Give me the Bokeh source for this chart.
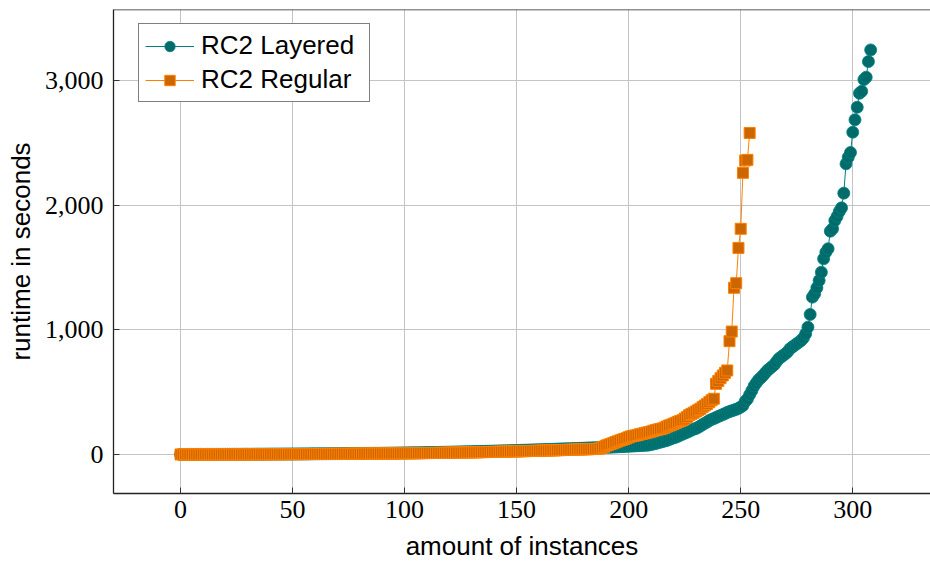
from bokeh.plotting import figure
from bokeh.models import ColumnDataSource, FixedTicker, NumeralTickFormatter, Range1d, Legend, LegendItem, Span
from bokeh.embed import file_html
from bokeh.resources import INLINE

# RC2 Layered: sorted runtimes (seconds), x = instance index
layered = [
    0.3, 0.4, 0.4, 0.5, 0.6, 0.6, 0.7, 0.7, 0.8, 0.9,
    0.9, 1.0, 1.0, 1.1, 1.2, 1.2, 1.3, 1.4, 1.4, 1.5,
    1.5, 1.6, 1.7, 1.7, 1.8, 1.9, 2.0, 2.0, 2.1, 2.2,
    2.3, 2.3, 2.4, 2.5, 2.6, 2.7, 2.7, 2.8, 2.9, 3.0,
    3.1, 3.2, 3.3, 3.3, 3.4, 3.5, 3.6, 3.7, 3.8, 3.9,
    4.0, 4.1, 4.2, 4.4, 4.5, 4.6, 4.7, 4.8, 5.0, 5.1,
    5.2, 5.3, 5.5, 5.6, 5.7, 5.9, 6.0, 6.1, 6.3, 6.4,
    6.6, 6.7, 6.9, 7.0, 7.2, 7.3, 7.5, 7.7, 7.8, 8.0,
    8.2, 8.4, 8.5, 8.7, 8.9, 9.1, 9.3, 9.5, 9.7, 9.9,
    10.1, 10.3, 10.5, 10.8, 11.0, 11.2, 11.5, 11.7, 12.0, 12.2,
    12.5, 12.7, 13.0, 13.3, 13.5, 13.8, 14.1, 14.4, 14.7, 15.0,
    15.3, 15.6, 16.0, 16.3, 16.6, 17.0, 17.3, 17.7, 18.0, 18.4,
    18.8, 19.1, 19.5, 19.9, 20.3, 20.7, 21.1, 21.5, 21.9, 22.3,
    22.7, 23.2, 23.6, 24.0, 24.5, 24.9, 25.4, 25.8, 26.3, 26.8,
    27.2, 27.7, 28.2, 28.7, 29.2, 29.7, 30.2, 30.7, 31.2, 31.8,
    32.3, 32.8, 33.4, 33.9, 34.5, 35.0, 35.6, 36.2, 36.8, 37.3,
    37.9, 38.5, 39.1, 39.7, 40.3, 40.9, 41.5, 42.1, 42.8, 43.4,
    44.0, 44.6, 45.3, 45.9, 46.5, 47.2, 47.8, 48.5, 49.1, 49.8,
    50.4, 51.1, 51.8, 52.4, 53.1, 53.8, 54.5, 55.2, 55.9, 56.6,
    57.3, 58.0, 58.7, 59.4, 60.1,
    61, 62, 63, 64, 65, 66, 67, 68, 69, 70, 71, 72, 73, 74, 76,
    80, 84, 88, 93, 98, 103, 108, 112, 120, 127,
    133, 139, 146, 155, 163, 170, 178, 186, 195, 203,
    208, 218, 228, 240, 250, 260, 272, 281, 288, 296,
    305, 312, 320, 328, 337, 344, 350, 356, 362, 370,
    380, 393, 425, 445, 480, 513, 550, 575, 600, 615,
    634, 655, 675, 690, 705, 720, 745, 768, 781, 795,
    808, 825, 848, 861, 875, 888, 901, 915, 935, 968,
    1021, 1123, 1262, 1289, 1337, 1395, 1462, 1569, 1622, 1650,
    1791, 1810, 1876, 1909, 1949, 1978, 2096, 2331, 2384, 2422,
    2585, 2684, 2785, 2897, 2913, 3007, 3026, 3151, 3245,
]

# RC2 Regular: sorted runtimes (seconds)
regular = [
    0.2, 0.2, 0.3, 0.3, 0.3, 0.4, 0.4, 0.4, 0.5, 0.5,
    0.5, 0.6, 0.6, 0.7, 0.7, 0.7, 0.8, 0.8, 0.9, 0.9,
    1.0, 1.0, 1.1, 1.1, 1.2, 1.2, 1.3, 1.3, 1.4, 1.4,
    1.5, 1.5, 1.6, 1.7, 1.7, 1.8, 1.8, 1.9, 2.0, 2.0,
    2.1, 2.2, 2.2, 2.3, 2.4, 2.4, 2.5, 2.6, 2.7, 2.7,
    2.8, 2.9, 3.0, 3.1, 3.1, 3.2, 3.3, 3.4, 3.5, 3.6,
    3.7, 3.8, 3.9, 4.0, 4.1, 4.2, 4.3, 4.4, 4.5, 4.6,
    4.7, 4.8, 5.0, 5.1, 5.2, 5.3, 5.5, 5.6, 5.7, 5.9,
    6.0, 6.1, 6.3, 6.4, 6.6, 6.7, 6.9, 7.0, 7.2, 7.3,
    7.5, 7.7, 7.8, 8.0, 8.2, 8.3, 8.5, 8.7, 8.9, 9.1,
    9.3, 9.5, 9.7, 9.9, 10.1, 10.3, 10.5, 10.7, 11.0, 11.2,
    11.4, 11.7, 11.9, 12.2, 12.4, 12.7, 12.9, 13.2, 13.5, 13.8,
    14.0, 14.3, 14.6, 14.9, 15.2, 15.5, 15.8, 16.1, 16.5, 16.8,
    17.1, 17.5, 17.8, 18.2, 18.5, 18.9, 19.3, 19.6, 20.0, 20.4,
    20.8, 21.2, 21.6, 22.0, 22.4, 22.9, 23.3, 23.7, 24.2, 24.6,
    25.1, 25.5, 26.0, 26.5, 27.0, 27.4, 27.9, 28.4, 28.9, 29.4,
    29.9, 30.4, 31.0, 31.5, 32.0, 32.5, 33.1, 33.6, 34.2, 34.7,
    35.3, 35.9, 36.4, 37.0, 37.6, 38.2, 38.8, 39.4, 40.0, 40.6,
    41.2, 41.8, 42.4, 43.0, 43.7,
    44.5, 45.5, 47, 55, 62,
    72, 78, 85, 90, 98, 105, 112, 118, 124, 130,
    138, 145, 150, 152, 156, 162, 166, 170, 175, 179,
    184, 190, 195, 200, 204, 208, 215, 224, 232, 238,
    246, 254, 262, 268, 275, 288, 300, 315, 325, 335,
    345, 355, 366, 380, 393, 405, 420, 435, 447, 567,
    590, 612, 634, 655, 674, 909, 986, 1337, 1374, 1657,
    1810, 2259, 2358, 2363, 2579,
]

x_ticks = [0, 50, 100, 150, 200, 250, 300]
y_ticks = [0, 1000, 2000, 3000]
Y_MIN, Y_MAX = -313, 3569

TEAL_LINE = "#008080"
TEAL_FILL = "#006b6b"
ORANGE_LINE = "#ff8000"
ORANGE_FILL = "#cc6600"

src_l = ColumnDataSource(dict(x=list(range(len(layered))), y=layered))
src_r = ColumnDataSource(dict(x=list(range(len(regular))), y=regular))

p = figure(width=930, height=568, output_backend="svg", toolbar_location=None,
           x_range=Range1d(-29.9, 334.7), y_range=Range1d(Y_MIN, Y_MAX),
           min_border_left=113, min_border_right=0, min_border_top=9, min_border_bottom=75)

l1 = p.line("x", "y", source=src_l, line_color=TEAL_LINE, line_width=1)
s1 = p.scatter("x", "y", source=src_l, marker="circle", size=12,
               fill_color=TEAL_FILL, line_color=TEAL_LINE, line_width=0.8)
l2 = p.line("x", "y", source=src_r, line_color=ORANGE_LINE, line_width=1)
s2 = p.scatter("x", "y", source=src_r, marker="square", size=11,
               fill_color=ORANGE_FILL, line_color=ORANGE_LINE, line_width=1)

legend = Legend(items=[LegendItem(label="RC2 Layered", renderers=[l1, s1]),
                       LegendItem(label="RC2 Regular", renderers=[l2, s2])],
                location=(25, 391))
legend.label_text_font = "Liberation Sans"
legend.label_text_font_size = "26px"
legend.label_text_color = "black"
legend.glyph_width = 49
legend.glyph_height = 26
legend.label_width = 162
legend.label_standoff = 7
legend.padding = 6
legend.spacing = 3
legend.margin = 0
legend.border_line_color = "black"
legend.border_line_width = 1.2
legend.background_fill_color = "white"
legend.background_fill_alpha = 1
p.add_layout(legend)

p.xaxis.ticker = FixedTicker(ticks=x_ticks)
p.yaxis.ticker = FixedTicker(ticks=y_ticks)
p.yaxis.formatter = NumeralTickFormatter(format="0,0")

for ax in (p.xaxis, p.yaxis):
    ax.major_tick_in = 6
    ax.major_tick_out = 0
    ax.minor_tick_line_color = None
    ax.major_tick_line_color = "#333333"
    ax.axis_line_color = "#222222"
    ax.axis_line_width = 1.3
    ax.major_label_text_font = "Liberation Serif"
    ax.major_label_text_font_size = "26px"
    ax.major_label_text_color = "black"
    ax.axis_label_text_font = "Liberation Sans"
    ax.axis_label_text_font_size = "26px"
    ax.axis_label_text_font_style = "normal"
    ax.axis_label_text_color = "black"

p.xaxis.axis_label = "amount of instances"
p.yaxis.axis_label = "runtime in seconds"
p.xaxis.major_label_standoff = 7
p.xaxis.axis_label_standoff = 10
p.yaxis.major_label_standoff = 10
p.yaxis.axis_label_standoff = 6

p.xgrid.ticker = FixedTicker(ticks=x_ticks)
p.ygrid.ticker = FixedTicker(ticks=y_ticks)
p.grid.grid_line_color = "#c4c4c4"
p.grid.grid_line_width = 1

# top border of the frame (the right border is cut off in the original picture)
p.outline_line_color = None
p.add_layout(Span(location=Y_MAX, dimension="width", line_color="#222222", line_width=1.3))
p.background_fill_color = "white"
p.border_fill_color = "white"

open("out.html", "w").write(file_html(p, INLINE))
